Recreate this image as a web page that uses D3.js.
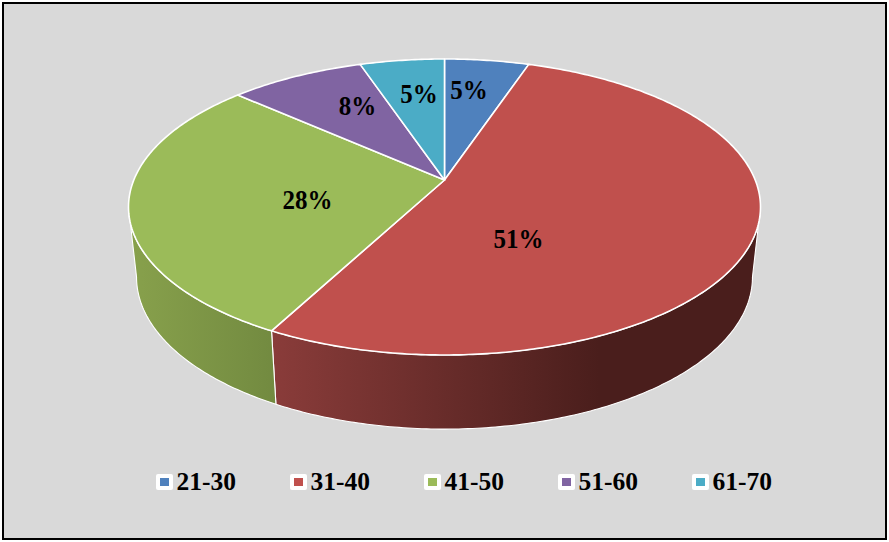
<!DOCTYPE html>
<html><head><meta charset="utf-8">
<script src="https://cdnjs.cloudflare.com/ajax/libs/d3/7.8.5/d3.min.js"></script>
<style>html,body{margin:0;padding:0;background:#fff}svg{display:block}</style></head>
<body><div id="chart"></div>
<script>
const categories = ["21-30","31-40","41-50","51-60","61-70"];
const values = [5,51,28,8,5];
const labels = ["5%","51%","28%","8%","5%"];
const colors = ["#4f81bd","#c0504d","#9bbb59","#8064a2","#4bacc6"];
const sideStops = [null,["#8a3c3a","#4a1e1c"],["#88a14c","#728a40"],null,null];
const labelPos = [[469,99],[518.5,248],[307.5,209],[357.5,115],[419,103]];

const W=889,H=542;
const svg=d3.select("#chart").append("svg").attr("width",W).attr("height",H);
svg.append("rect").attr("x",3).attr("y",3).attr("width",883).attr("height",536)
  .attr("fill","#d9d9d9").attr("stroke","#000").attr("stroke-width",2);

const k=0.1824;
function plane(ax,ay,apexX,apexY){
  const sx=d3.scaleLinear().domain([-1,1]).range([apexX-ax,apexX+ax]);
  const sy=d3.scaleLinear().domain([-1,1]).range([apexY+ay,apexY-ay]);
  return a=>{const u=Math.sin(a),v=Math.cos(a),w=1+k*v;
    return [sx(u/w),sy(v/w)];};
}
const apex=[444.5,180];
const topP=plane(310.7,143.07,apex[0],apex[1]);
const botP=plane(302.8,147,444.5,249.3);
const arcs=d3.pie().sort(null).value(d=>d)(values);
const line=d3.line().curve(d3.curveLinearClosed);
const samples=(a0,a1)=>{const n=Math.max(4,Math.ceil((a1-a0)*80));
  return d3.range(n+1).map(i=>a0+(a1-a0)*i/n);};
// the front of the rim runs between the two angles where the top ellipse is widest
const frontStart=Math.acos(-k), frontEnd=2*Math.PI-frontStart;

const defs=svg.append("defs");
arcs.forEach((d,i)=>{
  if(!sideStops[i])return;
  const a0=Math.max(d.startAngle,frontStart), a1=Math.min(d.endAngle,frontEnd);
  if(a1<=a0)return;
  const g=defs.append("linearGradient").attr("id","side"+i).attr("x1",0).attr("x2",1);
  const s=sideStops[i];
  g.append("stop").attr("offset",0).attr("stop-color",s[0]);
  g.append("stop").attr("offset",i===1?.67:1).attr("stop-color",s[1]);
  g.append("stop").attr("offset",1).attr("stop-color",s[1]);
  const as=samples(a0,a1);
  const pts=as.map(topP).concat(as.slice().reverse().map(botP));
  svg.append("path").attr("d",line(pts)).attr("fill",`url(#side${i})`)
    .attr("stroke","#fff").attr("stroke-width",1.1).attr("stroke-linejoin","round");
});
arcs.forEach((d,i)=>{
  const pts=[apex];
  samples(d.startAngle,d.endAngle).forEach(a=>pts.push(topP(a)));
  svg.append("path").attr("d",line(pts)).attr("fill",colors[i])
    .attr("stroke","#fff").attr("stroke-width",1.6).attr("stroke-linejoin","round");
});
labels.forEach((t,i)=>{
  svg.append("text").attr("transform",`translate(${labelPos[i][0]},${labelPos[i][1]}) scale(1,1.07)`)
    .attr("text-anchor","middle").attr("font-family","'Liberation Serif',serif")
    .attr("font-weight","bold").attr("font-size",25).attr("fill","#000").text(t);
});
const lx=d3.scalePoint().domain(categories).range([156,692]);
categories.forEach((c,i)=>{
  const g=svg.append("g").attr("transform",`translate(${lx(c)},474)`);
  g.append("rect").attr("width",17).attr("height",16).attr("rx",2).attr("fill","#fff");
  g.append("rect").attr("x",4).attr("y",4).attr("width",9).attr("height",8).attr("fill",colors[i]);
  g.append("text").attr("x",20.5).attr("y",16).attr("font-family","'Liberation Serif',serif")
    .attr("font-weight","bold").attr("font-size",25.5).attr("fill","#000").text(c);
});
</script></body></html>
